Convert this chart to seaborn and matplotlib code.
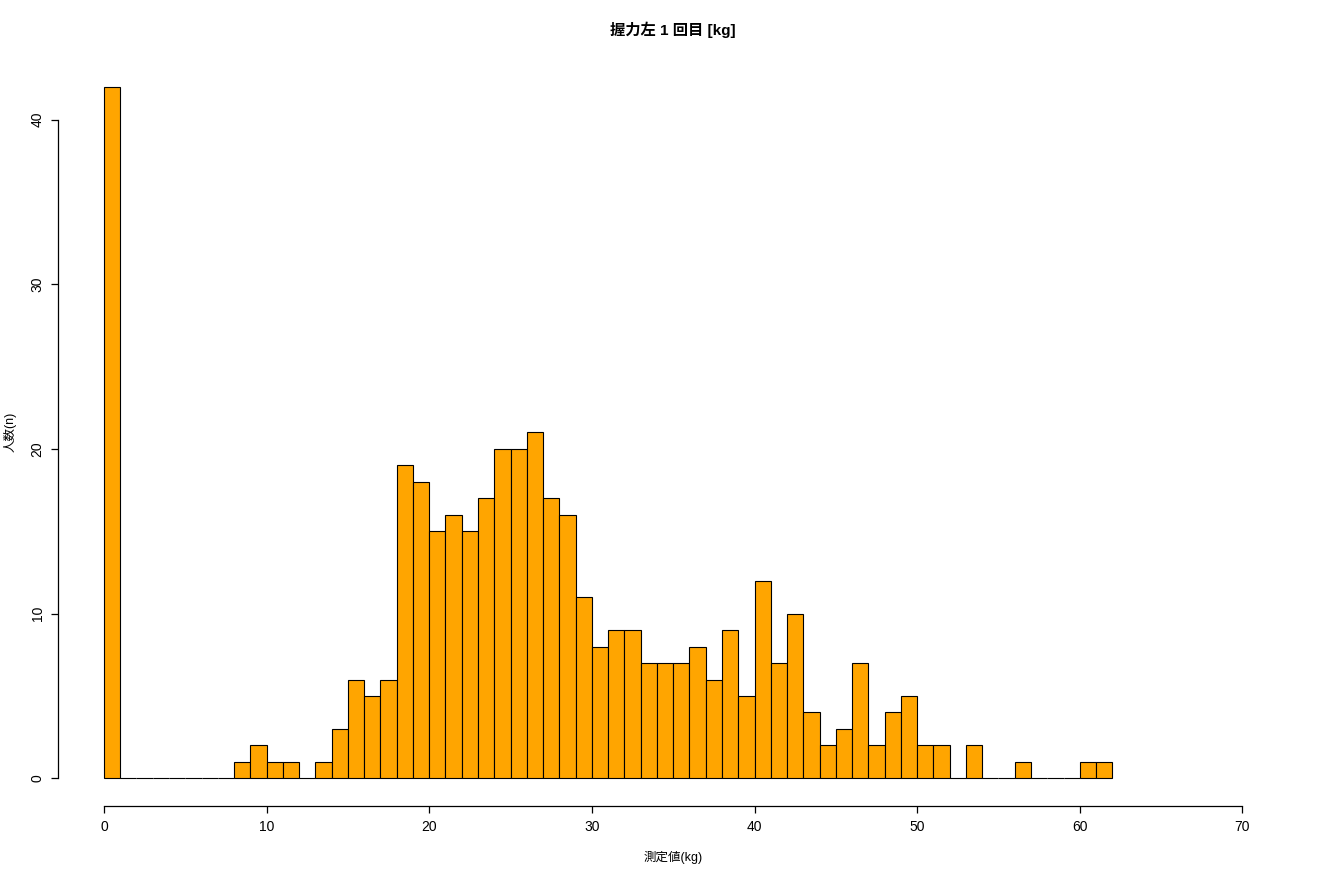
import numpy as np
import pandas as pd
import matplotlib
matplotlib.use("Agg")
import matplotlib.pyplot as plt
import seaborn as sns

# counts per 1 kg bin, bins from 0 to 62
bin_edges = list(range(0, 63))
counts = [42, 0, 0, 0, 0, 0, 0, 0, 1, 2,
          1, 1, 0, 1, 3, 6, 5, 6, 19, 18,
          15, 16, 15, 17, 20, 20, 21, 17, 16, 11,
          8, 9, 9, 7, 7, 7, 8, 6, 9, 5,
          12, 7, 10, 4, 2, 3, 7, 2, 4, 5,
          2, 2, 0, 2, 0, 0, 1, 0, 0, 0,
          1, 1]
x_ticks = [0, 10, 20, 30, 40, 50, 60, 70]
y_ticks = [0, 10, 20, 30, 40]

df = pd.DataFrame({"value": np.array(bin_edges[:-1]) + 0.5, "n": counts})

sns.set_style("white")
plt.rcParams['font.family'] = ['Liberation Sans', 'Noto Sans CJK JP', 'DejaVu Sans']
plt.rcParams['text.color'] = 'black'
plt.rcParams['xtick.color'] = 'black'
plt.rcParams['ytick.color'] = 'black'

fig = plt.figure(figsize=(13.2, 8.8), dpi=100)
ax = fig.add_axes([58.4 / 1320, 74 / 880, (1288 - 58.4) / 1320, (806 - 59) / 880])

sns.histplot(data=df, x="value", weights="n", bins=bin_edges, ax=ax,
             color="orange", alpha=1, edgecolor="black", linewidth=0.8)

ax.set_xlim(-2.8, 72.8)
ax.set_ylim(-1.68, 43.68)
for s in ["top", "right"]:
    ax.spines[s].set_visible(False)
ax.spines["left"].set_bounds(0, 40)
ax.spines["bottom"].set_bounds(0, 70)
for s in ["left", "bottom"]:
    ax.spines[s].set_linewidth(0.9)
    ax.spines[s].set_color("black")

ax.set_xticks(x_ticks)
ax.set_yticks(y_ticks)
ax.set_yticklabels([str(v) for v in y_ticks], rotation=90, va="center")
ax.tick_params(axis="both", bottom=True, left=True, length=5, width=0.9,
               labelsize=10, pad=5, color="black", labelcolor="black", direction="out")

ax.set_xlabel("")
ax.set_ylabel("")
fig.text(673 / 1320, 1 - 857 / 880, "測定値(kg)", fontsize=9, ha="center", va="center")
fig.text(10 / 1320, 1 - 432 / 880, "人数(n)", fontsize=9, ha="center", va="center", rotation=90)
fig.text(673 / 1320, 1 - 30 / 880, "握力左 1 回目 [kg]", fontsize=11, fontweight="bold",
         ha="center", va="center")

fig.savefig("out.png", dpi=100)
